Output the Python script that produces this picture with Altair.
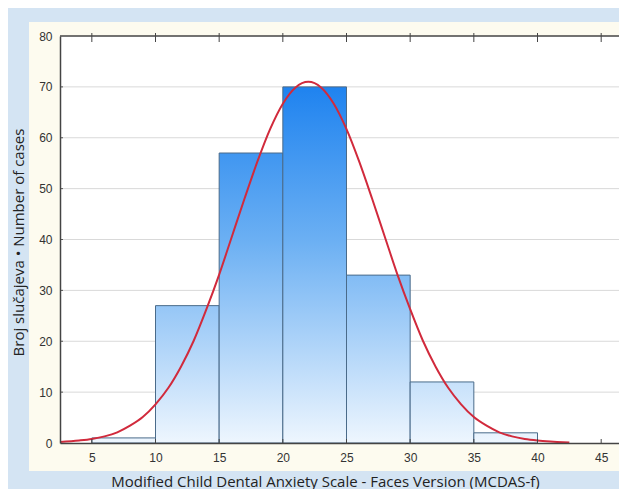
import altair as alt
import pandas as pd

# ---- data ----
bin_start = [5, 10, 15, 20, 25, 30, 35]
bin_end = [10, 15, 20, 25, 30, 35, 40]
counts = [1, 27, 57, 70, 33, 12, 2]

curve_x = [2.5, 4, 5, 6, 7, 8, 9, 10, 11, 12, 13, 14, 15, 16, 17, 18, 19, 20, 21, 22,
           23, 24, 25, 26, 27, 28, 29, 30, 31, 32, 33, 34, 35, 36, 37, 38, 39, 40, 41, 42, 42.5]
curve_y = [0.2, 0.5, 0.8, 1.3, 2.1, 3.4, 5.1, 7.6, 10.8, 15.0, 20.1, 26.3, 33.1, 40.6, 48.1,
           55.3, 61.7, 66.7, 69.9, 71.0, 69.9, 66.7, 61.7, 55.3, 48.1, 40.6, 33.1, 26.3, 20.1,
           15.0, 10.8, 7.6, 5.1, 3.4, 2.1, 1.3, 0.8, 0.5, 0.3, 0.15, 0.1]

x_ticks = [5, 10, 15, 20, 25, 30, 35, 40, 45]
y_ticks = [0, 10, 20, 30, 40, 50, 60, 70, 80]

x_title = "Modified Child Dental Anxiety Scale - Faces Version (MCDAS-f)"
y_title = "Broj slučajeva • Number of cases"

# ---- layout / style ----
W, H = 559, 407
X_DOMAIN = [2.5, 46.4]
Y_DOMAIN = [0, 80]
BG = "#d4e4f3"
CREAM = "#fdfbef"
LABEL_FONT = "Liberation Sans"
TITLE_FONT = "Open Sans"

xs = alt.Scale(domain=X_DOMAIN, nice=False, zero=False)
ys = alt.Scale(domain=Y_DOMAIN, nice=False)

one = alt.Data(values=[{"a": 1}])

cream = alt.Chart(one).mark_rect(color=CREAM).encode(
    x=alt.value(-31), x2=alt.value(W + 10), y=alt.value(-14), y2=alt.value(435)
)
white = alt.Chart(one).mark_rect(color="white").encode(
    x=alt.value(0), x2=alt.value(W), y=alt.value(0), y2=alt.value(H)
)

grid_df = pd.DataFrame({"v": y_ticks[1:-1]})
grid = alt.Chart(grid_df).mark_rule(color="#d9d9d9", strokeWidth=1).encode(
    y=alt.Y("v:Q", scale=ys), x=alt.value(0), x2=alt.value(W)
)
yticks = alt.Chart(grid_df).mark_rule(color="#555555", strokeWidth=1).encode(
    y=alt.Y("v:Q", scale=ys), x=alt.value(0), x2=alt.value(3)
)

xt_df = pd.DataFrame({"v": x_ticks})
top_ticks = alt.Chart(xt_df).mark_rule(color="#444444", strokeWidth=1).encode(
    x=alt.X("v:Q", scale=xs), y=alt.value(-3), y2=alt.value(6)
)
bottom_ticks = alt.Chart(xt_df).mark_rule(color="#444444", strokeWidth=1).encode(
    x=alt.X("v:Q", scale=xs), y=alt.value(H - 4), y2=alt.value(H)
)

bars = []
for s, e, c in zip(bin_start, bin_end, counts):
    df = pd.DataFrame({"s": [s], "e": [e], "c": [c]})
    grad = {
        "gradient": "linear",
        "x1": 0, "x2": 0,
        "y1": 1 - 72.0 / c, "y2": 1,
        "stops": [
            {"offset": 0, "color": "#1a80ef"},
            {"offset": 0.45, "color": "#6cb0f3"},
            {"offset": 1, "color": "#eef6fe"},
        ],
    }
    bars.append(
        alt.Chart(df).mark_rect(stroke="#4a6b8a", strokeWidth=1, fill=grad).encode(
            x=alt.X("s:Q", scale=xs), x2="e:Q",
            y=alt.Y("c:Q", scale=ys), y2=alt.datum(0),
        )
    )

curve_df = pd.DataFrame({"x": curve_x, "y": curve_y})
curve = alt.Chart(curve_df).mark_line(color="#d12a3c", strokeWidth=2, interpolate="monotone").encode(
    x=alt.X("x:Q", scale=xs), y=alt.Y("y:Q", scale=ys)
)

axes = alt.Chart(one).mark_point(opacity=0).encode(
    x=alt.X("a:Q", scale=xs, axis=alt.Axis(
        values=x_ticks, title=x_title, grid=False, ticks=False,
        labelFont=LABEL_FONT, labelFontSize=12, labelColor="#333333", labelPadding=9,
        domainColor="#444444", domainWidth=1.5,
        titleFont=TITLE_FONT, titleFontSize=15, titleFontWeight="normal", titleColor="#222222",
        titleX=265, titleY=43, titleAlign="center", titleBaseline="alphabetic",
        zindex=1)),
    y=alt.Y("a:Q", scale=ys, axis=alt.Axis(
        values=y_ticks, title=y_title, grid=False, ticks=False,
        labelFont=LABEL_FONT, labelFontSize=12, labelColor="#333333", labelPadding=8,
        domainColor="#444444", domainWidth=1.5,
        titleFont=TITLE_FONT, titleFontSize=15, titleFontWeight="normal", titleColor="#222222",
        titleX=-42, titleY=206, titleAngle=-90, titleAlign="center", titleBaseline="middle",
        zindex=1)),
)

top_line = alt.Chart(one).mark_rule(color="#444444", strokeWidth=1.5).encode(
    x=alt.value(0), x2=alt.value(W), y=alt.value(0)
)

chart = alt.layer(
    cream, white, grid, yticks, *bars, curve, bottom_ticks, top_ticks, top_line, axes
).properties(
    width=W, height=H,
    autosize=alt.AutoSizeParams(type="none"),
    padding={"left": 52, "top": 28, "right": 0, "bottom": 46},
    background=BG,
).configure_view(stroke=None)

chart.save("out.html", embed_options={"renderer": "svg", "actions": False})
